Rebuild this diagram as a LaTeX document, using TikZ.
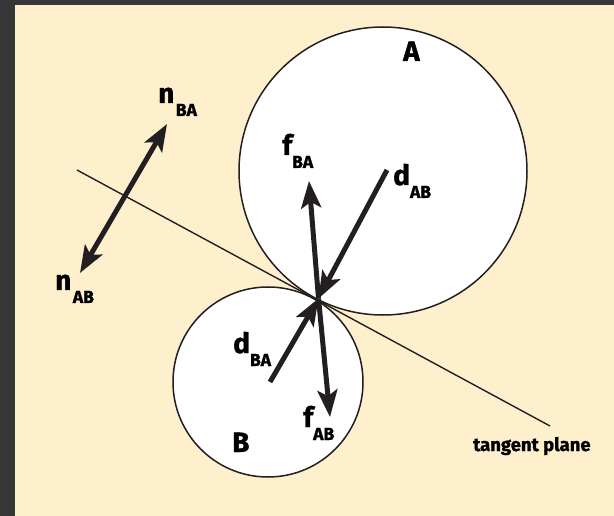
\documentclass[tikz,border=0pt]{standalone}
\usepackage{fontspec}
\setmainfont{Fira Sans}[BoldFeatures={FakeBold=1.2}]
\usetikzlibrary{arrows.meta}
\definecolor{bgdark}{HTML}{363636}
\definecolor{beige}{HTML}{FEF0CD}
\definecolor{ink}{HTML}{231F20}
\newcommand\lsub[1]{\raisebox{-13pt}{\fontsize{17.5}{17.5}\selectfont #1}}
\begin{document}
\begin{tikzpicture}[x=1pt,y=-1pt,
  ball/.style={circle,draw=ink,line width=1.5pt,fill=white,inner sep=0pt},
  tip/.tip={Stealth[length=27pt,width=20pt,inset=6pt]},
  vec/.style={line width=5pt, draw=ink, -tip},
  lbl/.style={anchor=base west, inner sep=0pt, font=\fontsize{28}{28}\selectfont\bfseries, text=black},
]
\useasboundingbox (0,0) rectangle (614,516);
\fill[bgdark] (0,0) rectangle (614,516);
\fill[beige] (15,5) rectangle (614,516);

\node[ball, minimum size=288pt] (A) at (383,171) {};
\node[ball, minimum size=190pt] (B) at (268,382) {};

\coordinate (t1) at (77,170);
\coordinate (t2) at (550,426);
\draw[line width=1.4pt, ink] (t1) -- (t2);

\coordinate (C) at (318.5,298.5);
\coordinate (fBA) at (309,181);
\coordinate (fAB) at (330,417);
\coordinate (dAB) at (387,170);
\coordinate (dBA) at (270,382);
\coordinate (n1) at (80,273);
\coordinate (n2) at (167,124);

\draw[vec] (C) -- (fBA);
\draw[vec] (C) -- (fAB);
\draw[vec] (dAB) -- (C);
\draw[vec] (dBA) -- (C);
\draw[vec, tip-tip] (n1) -- (n2);

\node[lbl] (lA) at (403,61) {A};
\node[lbl] (lB) at (232,452) {B};
\node[lbl] (lnBA) at (158,103) {n\kern1.5pt\lsub{BA}};
\node[lbl] (lnAB) at (55,290) {n\kern1.5pt\lsub{AB}};
\node[lbl] (lfBA) at (282,155) {f\lsub{BA}};
\node[lbl] (lfAB) at (303,427) {f\lsub{AB}};
\node[lbl] (ldAB) at (393,185) {d\lsub{AB}};
\node[lbl] (ldBA) at (233,353) {d\lsub{BA}};
\node[lbl, font=\fontsize{18.5}{18.5}\selectfont\bfseries] (tp) at (473,451) {tangent plane};
\end{tikzpicture}
\end{document}
